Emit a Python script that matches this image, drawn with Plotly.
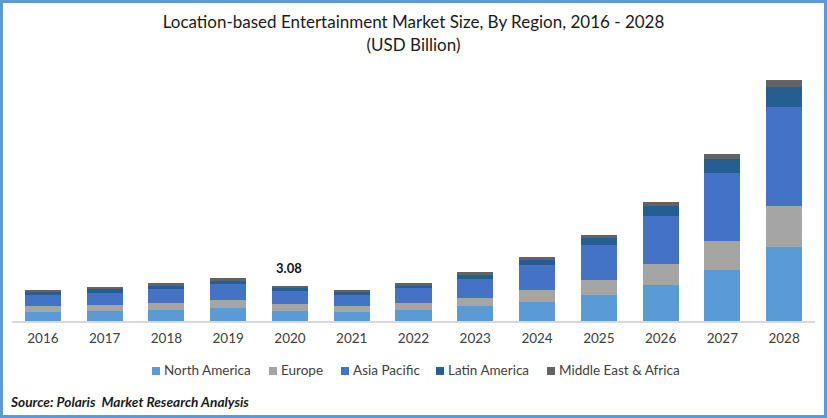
import plotly.graph_objects as go

years = ['2016', '2017', '2018', '2019', '2020', '2021', '2022',
         '2023', '2024', '2025', '2026', '2027', '2028']

# USD billion
north_america = [0.82, 0.91, 1.00, 1.18, 0.91, 0.82, 1.00, 1.36, 1.72, 2.36, 3.26, 4.65, 6.70]
europe = [0.54, 0.54, 0.63, 0.72, 0.63, 0.54, 0.63, 0.72, 1.09, 1.36, 1.90, 2.60, 3.71]
asia_pacific = [1.00, 1.09, 1.27, 1.45, 1.18, 1.00, 1.36, 1.72, 2.26, 3.17, 4.35, 6.16, 8.97]
latin_america = [0.27, 0.36, 0.36, 0.36, 0.27, 0.27, 0.27, 0.36, 0.54, 0.63, 0.91, 1.27, 1.81]
middle_east = [0.18, 0.18, 0.18, 0.18, 0.09, 0.09, 0.18, 0.27, 0.18, 0.27, 0.36, 0.45, 0.63]

series = [
    ('North America', north_america, '#5B9BD5'),
    ('Europe', europe, '#A5A5A5'),
    ('Asia Pacific', asia_pacific, '#4472C4'),
    ('Latin America', latin_america, '#255E91'),
    ('Middle East & Africa', middle_east, '#636363'),
]

title_text = 'Location-based Entertainment Market Size, By Region, 2016 - 2028<br>(USD Billion)'
source_text = 'Source: Polaris  Market Research Analysis'
callout_year = '2020'
callout_text = '3.08'

FONT = 'Lato, Carlito, sans-serif'
W, H = 827, 418
ML, MR, MT, MB = 12, 12, 60, 97
pw, ph = W - ML - MR, H - MT - MB


def px(x):
    return (x - ML) / pw


def py(y):
    return (H - MB - y) / ph


fig = go.Figure()
for name, values, color in series:
    fig.add_trace(go.Bar(x=years, y=values, name=name, marker=dict(color=color, line=dict(width=0))))

# numeric looking names get read as indexes on a category axis, so pass the index
callout_total = sum(s[1][years.index(callout_year)] for s in series)
fig.add_annotation(x=years.index(callout_year), y=callout_total, text='<b>%s</b>' % callout_text,
                   showarrow=False, yshift=19, xshift=-1,
                   font=dict(family=FONT, size=13, color='#111111'))

fig.add_annotation(xref='paper', yref='paper', x=px(11), y=py(401.5), xanchor='left', yanchor='middle',
                   text='<b><i>%s</i></b>' % source_text, showarrow=False, xshift=-3,
                   font=dict(family=FONT, size=13.7, color='#1a1a1a'))

# legend drawn by hand, the native one cannot get the swatch gap this tight
legend_x = [152, 269, 341, 436, 547]
for (name, values, color), lx in zip(series, legend_x):
    fig.add_shape(type='rect', xref='paper', yref='paper', x0=px(lx), x1=px(lx + 8),
                  y0=py(375), y1=py(367), fillcolor=color, line=dict(width=0))
    fig.add_annotation(xref='paper', yref='paper', x=px(lx + 12), y=py(370), xanchor='left',
                       yanchor='middle', text=name, showarrow=False, xshift=-2,
                       font=dict(family=FONT, size=13.5, color='#404040'))

# blue frame round the whole picture
fig.add_shape(type='rect', xref='paper', yref='paper',
              x0=px(1.5), x1=px(W - 1.5), y0=py(H - 1.5), y1=py(1.5),
              line=dict(color='#5B9BD5', width=3), fillcolor='rgba(0,0,0,0)')

fig.update_layout(
    width=W, height=H,
    margin=dict(l=ML, r=MR, t=MT, b=MB),
    barmode='stack',
    bargap=0.417,
    showlegend=False,
    paper_bgcolor='white',
    plot_bgcolor='white',
    font=dict(family=FONT, color='#404040'),
    title=dict(text=title_text, x=0.5, xref='container', xanchor='center', y=0.932, yanchor='top',
               font=dict(family=FONT, size=17, color='#1a1a1a')),
    xaxis=dict(type='category', showline=True, linecolor='#D9D9D9', linewidth=1.5, ticks='',
               ticklabelstandoff=4, tickfont=dict(family=FONT, size=13.5, color='#404040'),
               showgrid=False),
    yaxis=dict(visible=False, range=[0, 23.64], showgrid=False, zeroline=False),
)

# page default body margin would push the chart 8px in
fig.write_html('out.html', config=dict(displayModeBar=False),
               post_script="document.body.style.margin='0';")
